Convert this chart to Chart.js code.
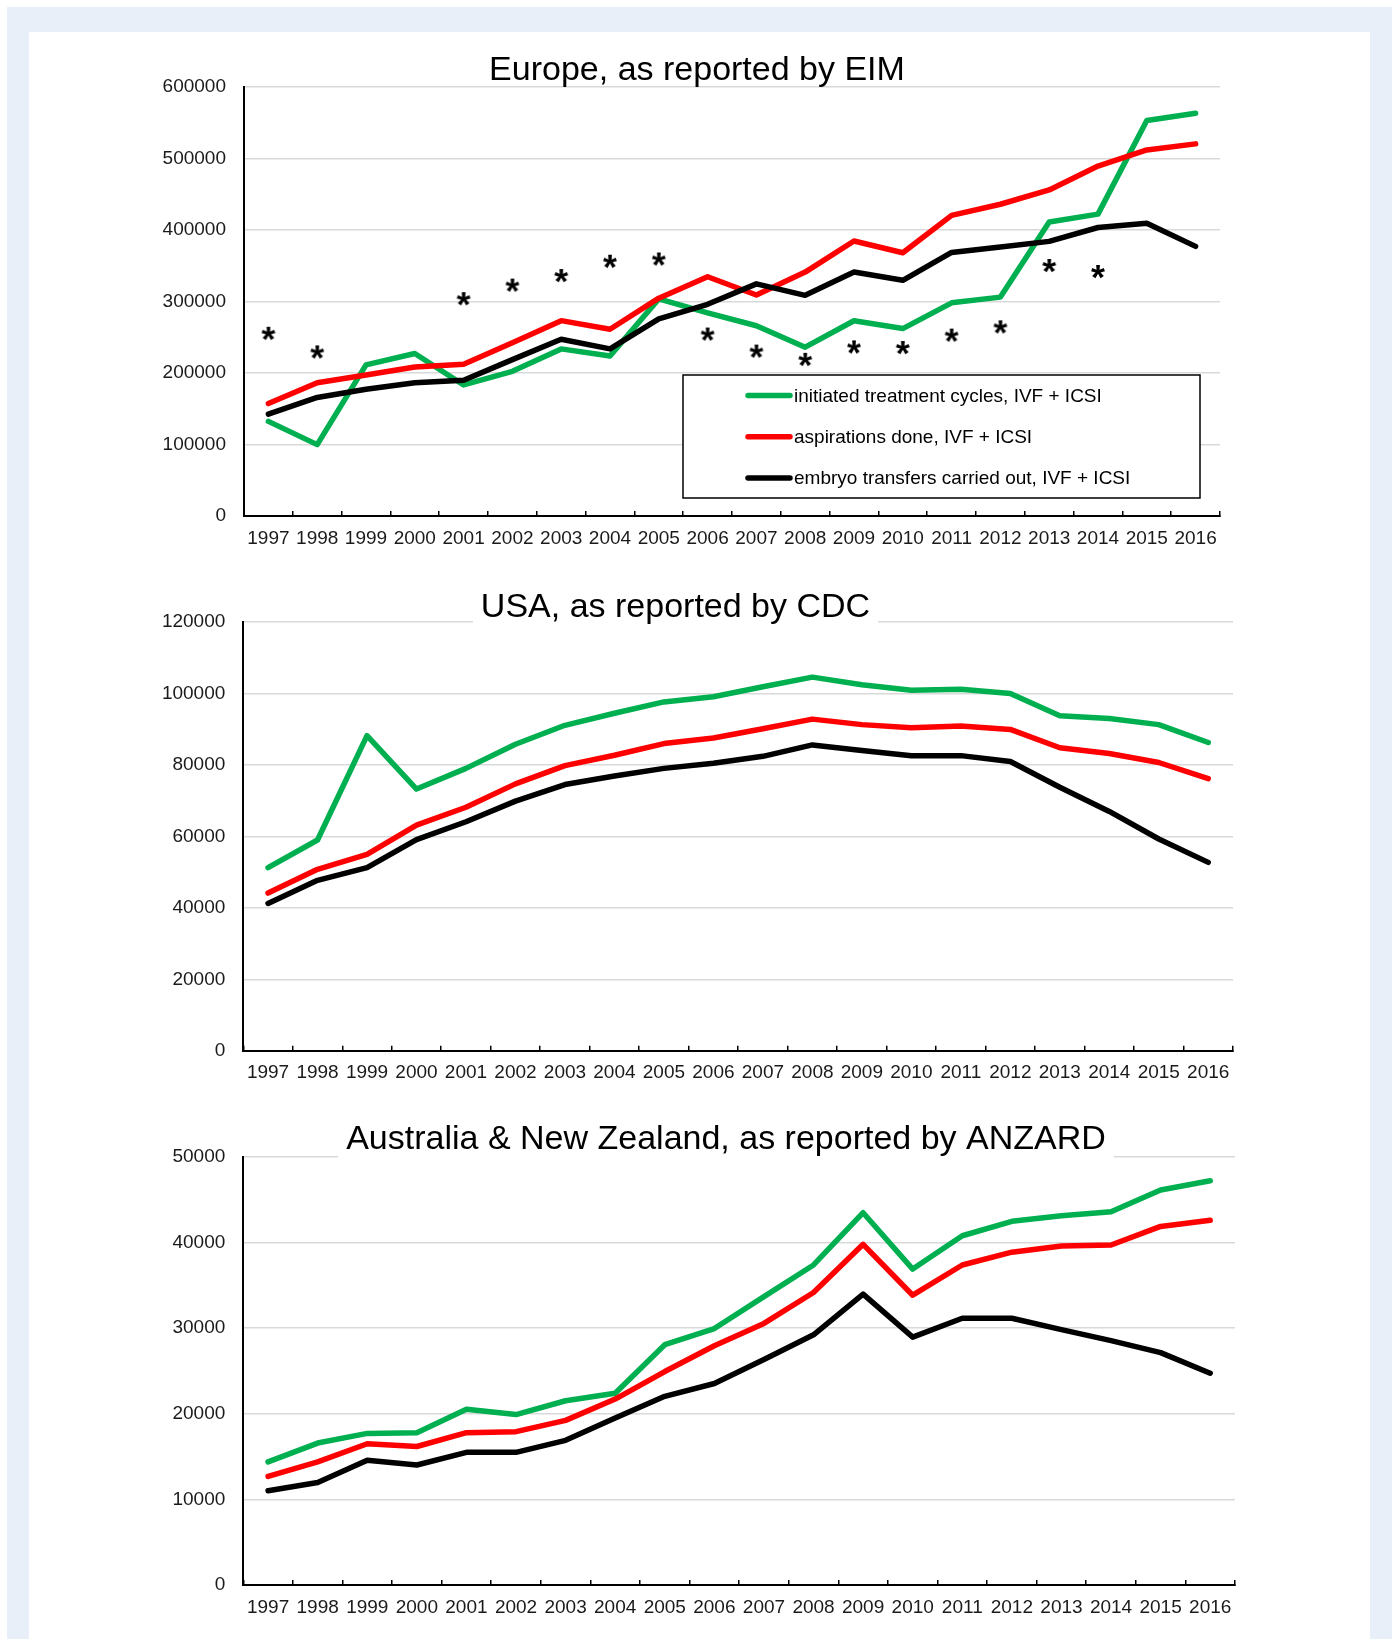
<!DOCTYPE html>
<html>
<head>
<meta charset="utf-8">
<style>
  body { margin: 0; background: #fff; font-family: "Liberation Sans", Arial, sans-serif; }
  #frame { position: absolute; left: 7px; top: 7px; width: 1385px; height: 1632px; background: #e8eff9; }
  #panel { position: absolute; left: 29px; top: 32px; width: 1341px; height: 1607px; background: #fff; }
  canvas { position: absolute; left: 0; }
</style>
</head>
<body>
<div id="frame"></div>
<div id="panel"></div>
<canvas id="eu" width="1392" height="520" style="top:40px"></canvas>
<canvas id="us" width="1392" height="540" style="top:560px"></canvas>
<canvas id="anz" width="1392" height="539" style="top:1100px"></canvas>

<script src="https://cdn.jsdelivr.net/npm/chart.js"></script>
<script>
const years = ['1997','1998','1999','2000','2001','2002','2003','2004','2005','2006',
               '2007','2008','2009','2010','2011','2012','2013','2014','2015','2016'];

const seriesNames = ['initiated treatment cycles, IVF + ICSI', 'aspirations done, IVF + ICSI', 'embryo transfers carried out, IVF + ICSI'];
const seriesColors = ['#00b050', '#ff0000', '#000000'];

// Europe (EIM)
const euInitiated = [132300, 99800, 211200, 227100, 183200, 202200, 233600, 223600, 303500, 284000,
                     266000, 236000, 273000, 262000, 298000, 306000, 411000, 422000, 553000, 563000];
const euAspirations = [157200, 186200, 197200, 208200, 212200, 242100, 273100, 261100, 304500, 334500,
                       309000, 341000, 384400, 368000, 420300, 435800, 455800, 489200, 511700, 520200];
const euTransfers = [142300, 165700, 177200, 186200, 189700, 218600, 247100, 233600, 275600, 296000,
                     324500, 308500, 341000, 329500, 368400, 375900, 383900, 403300, 409300, 376900];
const euAsterisks = [254700, 228700, null, null, 303100, 322100, 335500, 355500, 358600, 253700,
                     229800, 218300, 235700, 234800, 252200, 263700, 349500, 341100, null, null];

// USA (CDC)
const usInitiated = [51280, 58990, 88200, 73260, 79040, 85790, 91090, 94460, 97640, 99090,
                     101880, 104580, 102460, 100920, 101210, 99960, 93790, 93020, 91280, 86270];
const usAspirations = [44150, 50800, 54940, 63140, 68150, 74700, 79810, 82700, 85980, 87520,
                       90120, 92820, 91280, 90410, 90900, 89930, 84820, 83180, 80680, 76150];
const usTransfers = [41250, 47710, 51280, 59090, 64100, 69880, 74510, 76920, 79040, 80490,
                     82410, 85600, 84050, 82600, 82600, 80970, 73740, 66990, 59280, 52730];

// Australia & New Zealand (ANZARD)
const anzInitiated = [14370, 16570, 17700, 17780, 20510, 19900, 21510, 22390, 28050, 29940,
                      33670, 37360, 43460, 36880, 40770, 42460, 43100, 43580, 46110, 47190];
const anzAspirations = [12680, 14370, 16490, 16170, 17780, 17900, 19220, 21710, 24920, 27930,
                        30540, 34150, 39770, 33830, 37360, 38850, 39570, 39690, 41860, 42580];
const anzTransfers = [11000, 11960, 14570, 14010, 15490, 15490, 16890, 19500, 22030, 23520,
                      26330, 29210, 33950, 28930, 31140, 31140, 29820, 28530, 27130, 24720];

const FONT = '"Liberation Sans", Arial, sans-serif';

// asterisk marker image, glyph centred in the canvas
function asteriskImage() {
  const c = document.createElement('canvas');
  c.width = 22; c.height = 22;
  const g = c.getContext('2d');
  g.font = 'bold 100px ' + FONT;
  let m = g.measureText('*');
  const size = 100 * 14 / (m.actualBoundingBoxLeft + m.actualBoundingBoxRight);
  g.font = 'bold ' + size + 'px ' + FONT;
  m = g.measureText('*');
  g.fillStyle = '#000';
  g.fillText('*', 11 - (m.actualBoundingBoxRight - m.actualBoundingBoxLeft) / 2,
                  11 + (m.actualBoundingBoxAscent - m.actualBoundingBoxDescent) / 2);
  return c;
}

// title with optional white box that hides the top gridline
const titleBox = {
  id: 'titleBox',
  beforeDatasetsDraw(chart, args, opts) {
    const ctx = chart.ctx;
    ctx.save();
    ctx.font = '34px ' + FONT;
    const w = ctx.measureText(opts.text).width;
    if (opts.box) {
      ctx.fillStyle = '#fff';
      ctx.fillRect(opts.x - w / 2 - 8, opts.y - 32, w + 16, 43);
    }
    ctx.fillStyle = '#000';
    ctx.textAlign = 'center';
    ctx.textBaseline = 'alphabetic';
    ctx.fillText(opts.text, opts.x, opts.y);
    ctx.restore();
  }
};

// boxed legend inside the plot (Europe chart only)
const boxLegend = {
  id: 'boxLegend',
  afterDatasetsDraw(chart, args, opts) {
    if (!opts || !opts.show) return;
    const ctx = chart.ctx;
    ctx.save();
    ctx.fillStyle = '#fff';
    ctx.fillRect(opts.x, opts.y, opts.w, opts.h);
    ctx.strokeStyle = '#000';
    ctx.lineWidth = 1.5;
    ctx.strokeRect(opts.x, opts.y, opts.w, opts.h);
    ctx.font = '19px ' + FONT;
    ctx.textBaseline = 'middle';
    ctx.lineCap = 'round';
    for (let i = 0; i < 3; i++) {
      const ds = chart.data.datasets[i];
      const y = opts.y + 20.5 + i * 41.3;
      ctx.strokeStyle = ds.borderColor;
      ctx.lineWidth = 5.5;
      ctx.beginPath();
      ctx.moveTo(opts.x + 65, y);
      ctx.lineTo(opts.x + 107, y);
      ctx.stroke();
      ctx.fillStyle = '#000';
      ctx.fillText(ds.label, opts.x + 111, y + 1);
    }
    ctx.restore();
  }
};

function lineSet(i, values) {
  return {
    label: seriesNames[i],
    data: values,
    borderColor: seriesColors[i],
    backgroundColor: seriesColors[i],
    borderWidth: 5.5,
    pointRadius: 0,
    borderCapStyle: 'round',
    borderJoinStyle: 'round',
    tension: 0,
    order: 3 - i
  };
}

function makeChart(id, sets, yMax, yStep, pad, title, legend) {
  return new Chart(document.getElementById(id), {
    type: 'line',
    data: { labels: years, datasets: sets },
    options: {
      responsive: false,
      animation: false,
      layout: { padding: pad },
      plugins: {
        legend: { display: false },
        tooltip: { enabled: false },
        titleBox: title,
        boxLegend: legend || { show: false }
      },
      scales: {
        x: {
          offset: true,
          grid: { offset: true, drawOnChartArea: false, color: '#000', lineWidth: 1.5, tickLength: -5 },
          border: { color: '#000', width: 2 },
          ticks: { font: { size: 19, family: FONT }, color: '#1a1a1a', padding: 16, maxRotation: 0, autoSkip: false },
          afterFit: s => { s.height = 40; }
        },
        y: {
          min: 0, max: yMax,
          ticks: { stepSize: yStep, font: { size: 19, family: FONT }, color: '#1a1a1a', padding: 18,
                   callback: v => String(v) },
          grid: { color: '#d9d9d9', lineWidth: 1.5, drawTicks: false },
          border: { color: '#000', width: 2 },
          afterFit: s => { s.width = 110; }
        }
      }
    },
    plugins: [titleBox, boxLegend]
  });
}

const euSets = [lineSet(0, euInitiated), lineSet(1, euAspirations), lineSet(2, euTransfers), {
  label: 'note',
  data: euAsterisks,
  showLine: false,
  pointRadius: 6,
  pointStyle: asteriskImage(),
  order: 0
}];

makeChart('eu', euSets, 600000, 100000,
  { left: 134, right: 172, top: 46.8, bottom: 4 },
  { text: 'Europe, as reported by EIM', x: 697, y: 40, box: false },
  { show: true, x: 683, y: 335, w: 517, h: 123 });

makeChart('us', [lineSet(0, usInitiated), lineSet(1, usAspirations), lineSet(2, usTransfers)], 120000, 20000,
  { left: 133.3, right: 159, top: 62, bottom: 9.2 },
  { text: 'USA, as reported by CDC', x: 675.5, y: 57, box: true });

makeChart('anz', [lineSet(0, anzInitiated), lineSet(1, anzAspirations), lineSet(2, anzTransfers)], 50000, 10000,
  { left: 133.3, right: 157, top: 56.7, bottom: 14 },
  { text: 'Australia & New Zealand, as reported by ANZARD', x: 726, y: 49, box: true });
</script>
</body>
</html>
